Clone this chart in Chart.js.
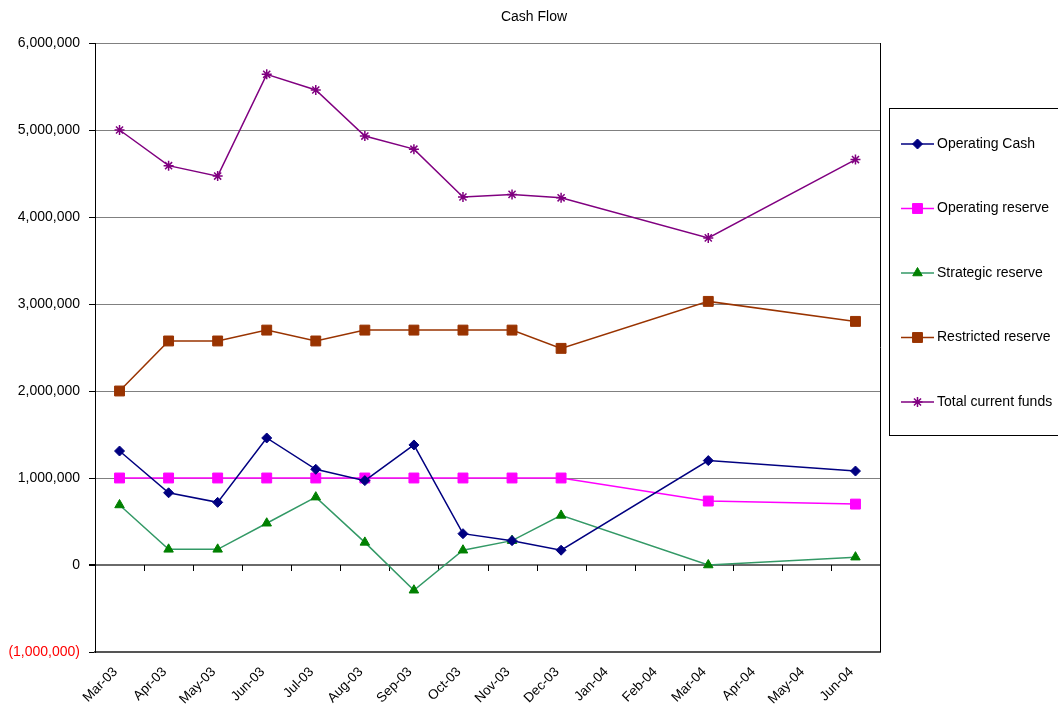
<!DOCTYPE html>
<html>
<head>
<meta charset="utf-8">
<title>Cash Flow</title>
<script src="https://cdn.jsdelivr.net/npm/chart.js@4.4.1/dist/chart.umd.min.js"></script>
<style>
  html, body { margin: 0; padding: 0; background: #fff; }
  #wrap { width: 1058px; height: 711px; }
</style>
</head>
<body>
<div id="wrap"><canvas id="cashFlowChart" width="1058" height="711"></canvas></div>
<script>
// Cash flow chart

// Months on the x axis
let months = ['Mar-03', 'Apr-03', 'May-03', 'Jun-03', 'Jul-03', 'Aug-03', 'Sep-03', 'Oct-03',
              'Nov-03', 'Dec-03', 'Jan-04', 'Feb-04', 'Mar-04', 'Apr-04', 'May-04', 'Jun-04'];

// Series values (null = no reading that month)
let operatingCash    = [1310000, 830000, 720000, 1460000, 1100000, 970000, 1380000, 360000,
                        280000, 170000, null, null, 1200000, null, null, 1080000];
let operatingReserve = [1000000, 1000000, 1000000, 1000000, 1000000, 1000000, 1000000, 1000000,
                        1000000, 1000000, null, null, 735000, null, null, 700000];
let strategicReserve = [690000, 180000, 180000, 480000, 780000, 260000, -290000, 170000,
                        280000, 570000, null, null, 0, null, null, 90000];
let restrictedReserve = [2000000, 2575000, 2575000, 2700000, 2575000, 2700000, 2700000, 2700000,
                         2700000, 2490000, null, null, 3030000, null, null, 2800000];
let totalFunds       = [5000000, 4590000, 4470000, 5640000, 5460000, 4930000, 4780000, 4230000,
                        4260000, 4220000, null, null, 3760000, null, null, 4660000];

// Y axis tick values
let yTicks = [-1000000, 0, 1000000, 2000000, 3000000, 4000000, 5000000, 6000000];

let seriesNames = ['Operating Cash', 'Operating reserve', 'Strategic reserve', 'Restricted reserve', 'Total current funds'];
let seriesData = [operatingCash, operatingReserve, strategicReserve, restrictedReserve, totalFunds];
let lineColors = ['#000080', '#ff00ff', '#339966', '#993300', '#800080'];
let markColors = ['#000080', '#ff00ff', '#008000', '#993300', '#800080'];
let markStyles = ['rectRot', 'rect', 'triangle', 'rect', 'star'];
let markSizes = [5, 7, 5.5, 7, 5];

let fontFamily = '"Liberation Sans", Arial, sans-serif';

function formatMoney(v) {
  let s = Math.abs(v).toLocaleString('en-US');
  return v < 0 ? '(' + s + ')' : s;
}

// Extra drawing: right border, x tick marks on the zero line, title and boxed legend
let decorPlugin = {
  id: 'decor',
  beforeDatasetsDraw(chart) {
    let ctx = chart.ctx, area = chart.chartArea;
    let x = chart.scales.x, y = chart.scales.y;
    ctx.save();
    ctx.strokeStyle = '#000';
    ctx.lineWidth = 1;
    ctx.beginPath();
    ctx.moveTo(Math.round(area.right) + 0.5, area.top);
    ctx.lineTo(Math.round(area.right) + 0.5, area.bottom);
    ctx.stroke();
    let zero = Math.round(y.getPixelForValue(0));
    ctx.beginPath();
    for (let i = 1; i < months.length; i++) {
      let px = Math.round(x.getPixelForValue(i - 0.5)) + 0.5;
      ctx.moveTo(px, zero);
      ctx.lineTo(px, zero + 6);
    }
    ctx.stroke();
    ctx.restore();
  },
  afterDraw(chart) {
    let ctx = chart.ctx;
    ctx.save();
    ctx.fillStyle = '#000';
    ctx.font = '14px ' + fontFamily;
    ctx.textAlign = 'center';
    ctx.textBaseline = 'middle';
    ctx.fillText('Cash Flow', chart.width / 2 + 5, 17);

    // legend box
    ctx.strokeStyle = '#000';
    ctx.lineWidth = 1;
    ctx.strokeRect(889.5, 108.5, 180, 327);
    ctx.textAlign = 'left';
    for (let i = 0; i < seriesNames.length; i++) {
      let cy = 144 + i * 64.5;
      ctx.strokeStyle = lineColors[i];
      ctx.lineWidth = 1.5;
      ctx.beginPath();
      ctx.moveTo(901, cy);
      ctx.lineTo(934, cy);
      ctx.stroke();
      ctx.fillStyle = markColors[i];
      ctx.strokeStyle = markColors[i];
      ctx.lineWidth = markStyles[i] === 'star' ? 1.5 : 1;
      Chart.helpers.drawPoint(ctx, {pointStyle: markStyles[i], radius: markSizes[i], borderWidth: ctx.lineWidth, rotation: 0}, 917.5, cy);
      ctx.fillStyle = '#000';
      ctx.fillText(seriesNames[i], 937, cy);
    }
    ctx.restore();
  }
};

let cashFlowChart = new Chart(document.getElementById('cashFlowChart').getContext('2d'), {
  type: 'line',
  data: {
    labels: months,
    datasets: seriesData.map((d, i) => ({
      label: seriesNames[i],
      data: d,
      borderColor: lineColors[i],
      backgroundColor: markColors[i],
      borderWidth: 1.5,
      pointStyle: markStyles[i],
      pointRadius: markSizes[i],
      pointHoverRadius: markSizes[i],
      pointBackgroundColor: markColors[i],
      pointBorderColor: markColors[i],
      pointBorderWidth: markStyles[i] === 'star' ? 1.5 : 1,
      spanGaps: true,
      tension: 0,
      fill: false
    }))
  },
  options: {
    responsive: false,
    devicePixelRatio: 1,
    animation: false,
    layout: { padding: { top: 43, right: 178, left: 0, bottom: 0 } },
    plugins: {
      legend: { display: false },
      title: { display: false },
      tooltip: { enabled: false }
    },
    scales: {
      x: {
        type: 'category',
        offset: true,
        afterFit: s => { s.height = 59; },
        grid: { display: false, drawTicks: false },
        border: { display: true, color: '#555', width: 2 },
        ticks: {
          color: '#000',
          font: { family: fontFamily, size: 13.5 },
          minRotation: 45,
          maxRotation: 45,
          autoSkip: false,
          padding: 12,
          labelOffset: -4
        }
      },
      y: {
        min: -1000000,
        max: 6000000,
        afterFit: s => { s.width = 95; },
        afterBuildTicks: s => { s.ticks = yTicks.map(v => ({ value: v })); },
        grid: {
          color: c => c.tick && c.tick.value === 0 ? '#6a6a6a' : '#808080',
          lineWidth: c => c.tick && c.tick.value === 0 ? 2 : 1,
          tickColor: '#000',
          tickLength: 6
        },
        border: { display: true, color: '#000', width: 1 },
        ticks: {
          color: c => c.tick && c.tick.value < 0 ? '#ff0000' : '#000',
          font: { family: fontFamily, size: 14 },
          padding: 9,
          callback: v => formatMoney(v)
        }
      }
    }
  },
  plugins: [decorPlugin]
});
</script>
</body>
</html>
